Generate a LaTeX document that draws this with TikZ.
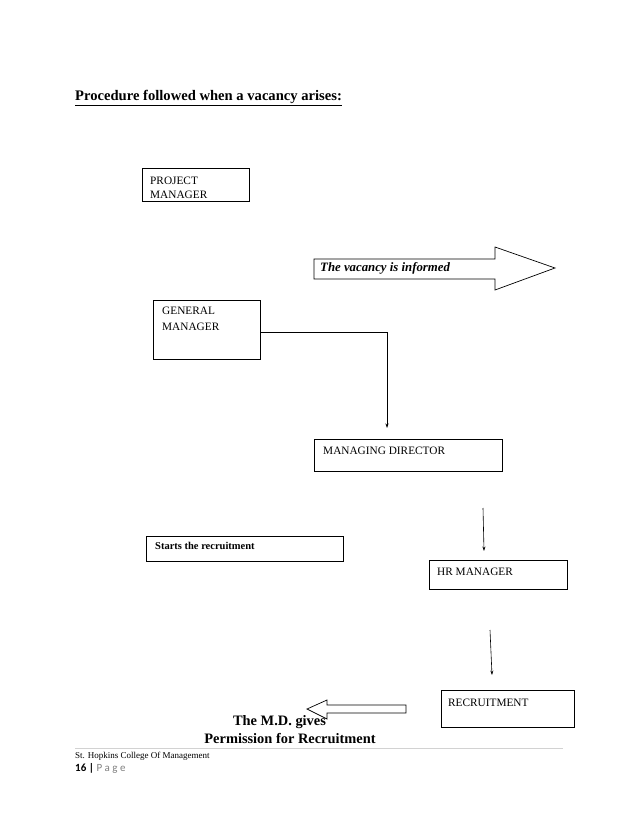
\documentclass[tikz,border=0pt]{standalone}
\usepackage{fontspec}
\setmainfont{Liberation Serif}
\newfontfamily\pagefont{Carlito}
\usetikzlibrary{arrows.meta}

\begin{document}
\begin{tikzpicture}[x=1pt,y=-1pt,
    box/.style={draw, line width=0.8pt, anchor=north west, inner sep=0pt},
    boxtext/.style={anchor=north west, inner sep=0pt, align=left, font=\fontsize{11.3}{14}\selectfont},
    thinarrow/.style={line width=0.6pt, -{Stealth[length=4.5pt,width=3pt]}}]

\useasboundingbox (0,0) rectangle (638,826);

\node[anchor=base west, inner sep=0pt, font=\bfseries\fontsize{14.6}{16}\selectfont] (title) at (75,101)
    {\underline{Procedure followed when a vacancy arises:}};

% the boxes
\node[box, minimum width=107pt, minimum height=33pt] (pm) at (142,168) {};
\node[boxtext] (pmtext) at (150,177) {PROJECT\\MANAGER};

\node[box, minimum width=107pt, minimum height=59pt] (gm) at (153,300) {};
\node[boxtext] (gmtext) at (162,307) {GENERAL\\[2pt]MANAGER};

\node[box, minimum width=188pt, minimum height=32pt] (md) at (314,439) {};
\node[boxtext] (mdtext) at (323,447) {MANAGING DIRECTOR};

\node[box, minimum width=197pt, minimum height=25pt] (starts) at (146,536) {};
\node[boxtext, font=\bfseries\fontsize{10.5}{12}\selectfont] (startstext) at (155,542) {Starts the recruitment};

\node[box, minimum width=138pt, minimum height=29pt] (hr) at (429,560) {};
\node[boxtext] (hrtext) at (437,568) {HR MANAGER};

\node[box, minimum width=133pt, minimum height=37pt] (rec) at (441,690) {};
\node[boxtext] (rectext) at (448,699) {RECRUITMENT};

% block arrows
\draw[line width=0.7pt] (314,259) -- (495,259) -- (495,247) -- (555,268) -- (495,290) -- (495,279) -- (314,279) -- cycle;
\node[anchor=west, inner sep=0pt, font=\bfseries\itshape\fontsize{12.8}{14}\selectfont] (informed) at (320,268) {The vacancy is informed};

\draw[line width=0.7pt] (406,705) -- (327,705) -- (327,700) -- (307,709) -- (327,719) -- (327,713) -- (406,713) -- cycle;
\node[anchor=north, inner sep=0pt, align=center, font=\bfseries\fontsize{14.4}{18}\selectfont] (gives) at (290,715)
    {The M.D. gives\hspace*{21pt}\\Permission for Recruitment};

% thin arrows
\coordinate (mdin) at (387,428);
\draw[thinarrow] ([yshift=-2pt]gm.east) -| (mdin);

\coordinate (hrtop) at (483,508);
\coordinate (hrin) at (484,551);
\draw[thinarrow] (hrtop) -- (hrin);

\coordinate (rectop) at (490,630);
\coordinate (recin) at (492,675);
\draw[thinarrow] (rectop) -- (recin);

% footer
\draw[gray!35, line width=0.7pt] (75,748) -- (563,748);
\node[anchor=base west, inner sep=0pt, font=\fontsize{9}{10}\selectfont] (college) at (75,758) {St. Hopkins College Of Management};
\node[anchor=base west, inner sep=0pt, font=\pagefont\fontsize{11}{12}\selectfont] (pageno) at (75,771)
    {\textbf{16 |} \textcolor{gray}{P a g e}};
\end{tikzpicture}
\end{document}
